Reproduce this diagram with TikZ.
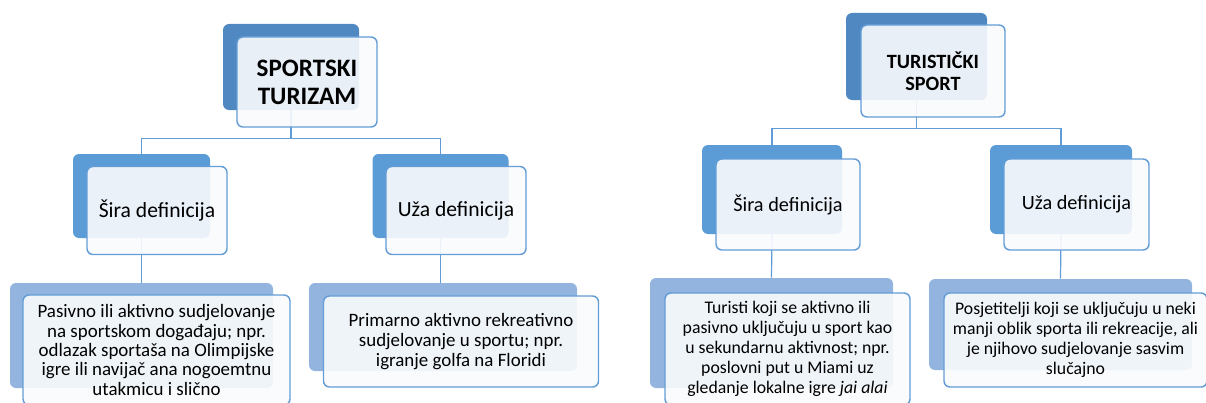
\documentclass[tikz,border=0pt]{standalone}
\usepackage{fontspec}
\setmainfont{Carlito}
\usetikzlibrary{positioning,backgrounds}
\definecolor{topblue}{RGB}{80,137,194}
\definecolor{midblue}{RGB}{92,156,214}
\definecolor{lowblue}{RGB}{146,180,222}
\definecolor{frameblue}{RGB}{100,157,214}
\definecolor{linkblue}{RGB}{98,156,214}
\definecolor{paneltint}{RGB}{250,251,253}

\begin{document}
\begin{tikzpicture}[
  x=0.75pt, y=-0.75pt,
  back/.style={rounded corners=4.5pt, inner sep=0pt},
  front/.style={draw=frameblue, line width=1.1pt, fill=paneltint, fill opacity=0.9,
                text opacity=1, rounded corners=4.5pt, align=center, inner sep=0pt},
  head/.style 2 args={font=\fontsize{#1}{#2}\selectfont\bfseries},
  txt/.style 2 args={font=\fontsize{#1}{#2}\selectfont},
  link/.style={draw=linkblue, line width=0.9pt}]
\useasboundingbox (0,0) rectangle (1206,403);
\node[back, fill=topblue, minimum width=102pt, minimum height=64.5pt] (bTopL) at (291,67) {};
\node[front, head={18.8}{21}, minimum width=105pt, minimum height=67.5pt] (fTopL)
  at ([shift={(16,15)}]bTopL.center) {SPORTSKI\\TURIZAM};
\node[back, fill=midblue, minimum width=102.75pt, minimum height=63pt] (bSiraL) at (141.5,196) {};
\node[front, txt={16.2}{19}, minimum width=105pt, minimum height=66pt] (fSiraL)
  at ([shift={(15.5,14.5)}]bSiraL.center) {Šira definicija};
\node[back, fill=midblue, minimum width=102pt, minimum height=63pt] (bUzaL) at (440.5,196) {};
\node[front, txt={16.2}{19}, minimum width=105pt, minimum height=66pt] (fUzaL)
  at ([shift={(15.5,14.5)}]bUzaL.center) {Uža definicija};
\node[back, fill=lowblue, minimum width=197.25pt, minimum height=78.75pt] (bPasL) at (141.5,335.5) {};
\node[front, txt={14.2}{14.6}, minimum width=200.25pt, minimum height=82.5pt] (fPasL)
  at ([shift={(15,14.5)}]bPasL.center) {Pasivno ili aktivno sudjelovanje\\na sportskom događaju; npr.\\odlazak sportaša na Olimpijske\\igre ili navijač ana nogoemtnu\\utakmicu i slično};
\node[back, fill=lowblue, minimum width=201pt, minimum height=66pt] (bPrimL) at (443,327) {};
\node[front, txt={14.2}{15}, minimum width=206.25pt, minimum height=68.25pt] (fPrimL)
  at ([shift={(18,14.5)}]bPrimL.center) {Primarno aktivno rekreativno\\sudjelovanje u sportu; npr.\\igranje golfa na Floridi};
\node[back, fill=topblue, minimum width=105.75pt, minimum height=65.25pt] (bTopR) at (916.5,56.5) {};
\node[front, head={15.2}{16.5}, minimum width=108pt, minimum height=69pt] (fTopR)
  at ([shift={(16.5,14.5)}]bTopR.center) {TURISTIČKI\\SPORT};
\node[back, fill=midblue, minimum width=105pt, minimum height=66.75pt] (bSiraR) at (772,189.5) {};
\node[front, txt={15.2}{18}, minimum width=108pt, minimum height=68.25pt] (fSiraR)
  at ([shift={(16,15)}]bSiraR.center) {Šira definicija};
\node[back, fill=midblue, minimum width=106.5pt, minimum height=66.75pt] (bUzaR) at (1061,189.5) {};
\node[front, txt={15.2}{18}, minimum width=108.75pt, minimum height=68.25pt] (fUzaR)
  at ([shift={(15.5,15)}]bUzaR.center) {Uža definicija};
\node[back, fill=lowblue, minimum width=182.25pt, minimum height=82.5pt] (bTurR) at (771.5,333) {};
\node[front, txt={13.3}{15}, minimum width=183.75pt, minimum height=84pt] (fTurR)
  at ([shift={(16,16)}]bTurR.center) {Turisti koji se aktivno ili\\pasivno uključuju u sport kao\\u sekundarnu aktivnost; npr.\\poslovni put u Miami uz\\gledanje lokalne igre \textit{jai alai}};
\node[back, fill=lowblue, minimum width=197.25pt, minimum height=68.25pt] (bPosR) at (1060.5,324.5) {};
\node[front, txt={13.3}{15}, minimum width=197.25pt, minimum height=70.5pt] (fPosR)
  at ([shift={(15,15.5)}]bPosR.center) {Posjetitelji koji se uključuju u neki\\manji oblik sporta ili rekreacije, ali\\je njihovo sudjelovanje sasvim\\slučajno};
\begin{scope}[on background layer]
\draw[link] (bTopL.south) -- ++(0,28) -| (bSiraL.north);
\draw[link] (bTopL.south) -- ++(0,28) -| (bUzaL.north);
\draw[link] (bSiraL.south) -- (bPasL.north);
\draw[link] (bUzaL.south) -- (bUzaL.south |- bPrimL.north);
\draw[link] (bTopR.south) -- ++(0,28) -| (bSiraR.north);
\draw[link] (bTopR.south) -- ++(0,28) -| (bUzaR.north);
\draw[link] (bSiraR.south) -- (bTurR.north);
\draw[link] (bUzaR.south) -- (bPosR.north);
\end{scope}
\end{tikzpicture}
\end{document}
